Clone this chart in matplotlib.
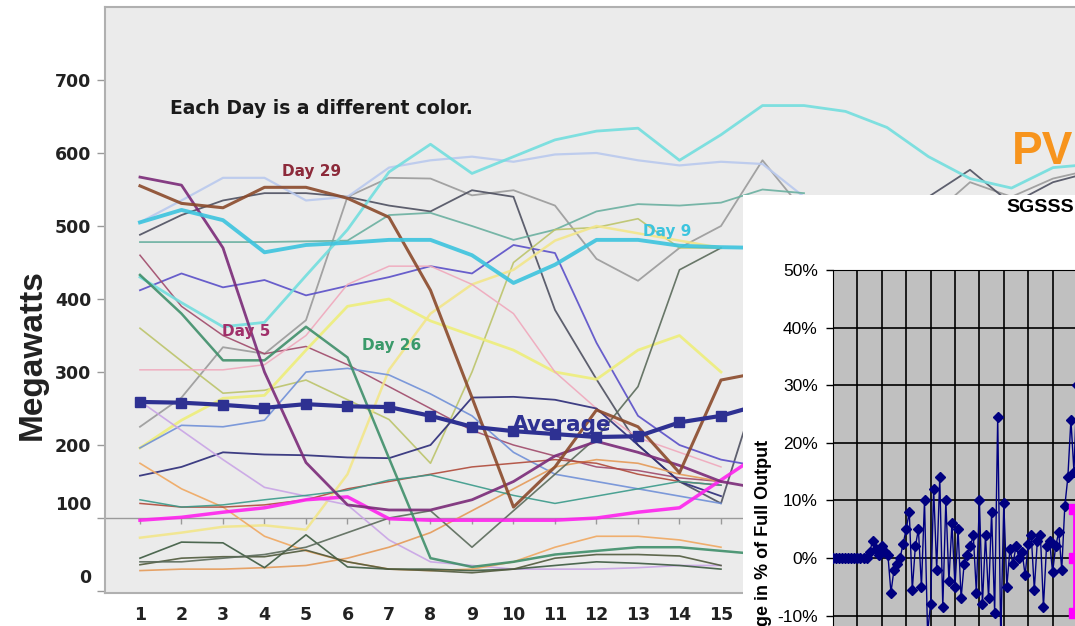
import matplotlib
matplotlib.use("Agg")
import matplotlib.pyplot as plt
import matplotlib.transforms as mtransforms

plt.rcParams['font.family'] = ['DejaVu Sans']

# ---- main chart data (MW per hour, each day a line) ----
hours = list(range(1, 25))
y_ticks = [0, 100, 200, 300, 400, 500, 600, 700]

average = [259, 258, 255, 251, 256, 253, 252, 240, 225, 219, 215, 211, 212, 231, 240, 256]
day29 = [555, 531, 525, 553, 553, 538, 512, 412, 265, 115, 170, 248, 225, 162, 289, 300]
day5 = [567, 556, 470, 300, 176, 118, 111, 111, 125, 150, 185, 205, 190, 172, 150, 140]
day9 = [505, 522, 508, 464, 474, 477, 481, 481, 460, 422, 447, 481, 481, 473, 471, 470]
day26 = [433, 380, 316, 316, 362, 320, 182, 45, 33, 40, 50, 55, 60, 60, 55, 50]
cyan_top = [430, 395, 362, 368, 432, 495, 574, 612, 572, 595, 618, 630, 634, 590, 625,
            665, 665, 657, 635, 595, 565, 552, 580, 585]
lavender = [505, 535, 566, 566, 535, 540, 580, 590, 595, 588, 598, 600, 590, 583, 588, 585, 540, 520]
dark_gray = [488, 515, 535, 545, 545, 540, 528, 520, 549, 540, 385, 290, 200, 150, 120,
             300, 420, 480, 500, 540, 577, 530, 560, 575]
gray = [225, 265, 334, 325, 371, 540, 566, 565, 542, 549, 528, 455, 425, 470, 500,
        590, 520, 500, 490, 510, 560, 540, 565, 578]
teal = [478, 478, 478, 478, 479, 480, 515, 518, 500, 481, 495, 520, 530, 528, 532, 550, 545]
blue_violet = [412, 435, 416, 426, 405, 418, 430, 445, 435, 474, 463, 340, 240, 200, 180, 170]
maroon = [460, 390, 350, 325, 335, 310, 280, 250, 220, 200, 185, 170, 165, 155, 150]
olive = [360, 315, 271, 275, 289, 262, 235, 175, 300, 450, 495, 498, 510, 470, 470]
yellow = [196, 234, 264, 268, 330, 390, 400, 370, 350, 330, 300, 290, 330, 350, 300]
yellow2 = [73, 80, 88, 90, 84, 160, 303, 380, 420, 440, 480, 500, 490, 480, 470]
pink = [303, 303, 303, 310, 350, 420, 445, 445, 420, 380, 300, 250, 210, 190, 170]
steel = [196, 227, 225, 234, 300, 305, 296, 270, 240, 190, 160, 150, 140, 130, 120]
navy_thin = [158, 170, 190, 187, 186, 183, 182, 200, 265, 266, 262, 250, 200, 150, 130]
lilac = [260, 220, 180, 142, 130, 118, 70, 40, 35, 30, 30, 30, 32, 35, 35]
orange = [175, 140, 115, 75, 55, 40, 30, 28, 30, 40, 60, 75, 75, 70, 60]
orange2 = [28, 30, 30, 32, 35, 45, 60, 80, 110, 140, 170, 180, 175, 160, 150]
green_a = [45, 67, 66, 32, 77, 33, 30, 30, 28, 30, 35, 40, 38, 35, 30]
green_b = [36, 45, 47, 47, 56, 40, 30, 28, 25, 30, 45, 50, 50, 48, 35]
riser = [40, 40, 45, 50, 60, 80, 100, 110, 60, 110, 160, 210, 280, 440, 470]
red_brown = [120, 115, 115, 118, 125, 140, 150, 160, 170, 175, 180, 175, 160, 150, 145]
teal_low = [125, 115, 118, 125, 131, 138, 152, 159, 145, 131, 120, 130, 140, 150, 145]
magenta = [97, 101, 108, 114, 125, 129, 99, 97, 97, 97, 97, 100, 108, 114, 152, 190]

# ---- inset data (change in % of full output) ----
inset_pct = [0, 0, 0, 0, 0, 0, 0, 0, 0, 0, 0, 0, 1, 3, 1.5, 0.5, 2, 1, 0.5, -6,
             -2, -1, 0, 2.5, 5, 8, -5.5, 2, 5, -5, 10, -13, -8, 12, -2, 14, -8.5, 10, -4, 6,
             -5, 5, -7, -1, 0.5, 2, 4, -6, 10, -8, 4, -7, 8, -9.5, 24.5, -14, 9.5, -5, 1.5, -1,
             2, 0, 1, -3, 2.5, 4, -5.5, 3, 4, -8.5, 2, 3, -2.5, 2, 4.5, -2, 9, 14, 24, 15, 30]
inset_magenta = [8.5, 0, -9.5]
inset_ticks = [-30, -20, -10, 0, 10, 20, 30, 40, 50]

W, H = 1075, 626
fig = plt.figure(figsize=(W / 100, H / 100), dpi=100)

# main chart
ax = fig.add_axes([105 / W, 33 / H, 1031 / W, 586 / H])
ax.set_facecolor('#ebebeb')
ax.set_xlim(0.157, 25.0)
ax.set_ylim(-2.7, 800)

ax.axhline(100, color='#9a9a9a', lw=1, zorder=1)
ax.vlines(hours, 92, 100, color='#9a9a9a', lw=1, zorder=1)

lines = [
    (gray, '#9a9a9a', 1.3), (dark_gray, '#4e5060', 1.3), (lavender, '#b9c9ee', 1.6),
    (teal, '#6ab0a0', 1.3), (blue_violet, '#5a4fc8', 1.3), (maroon, '#a04a6a', 1.1),
    (olive, '#bcc46a', 1.2), (yellow, '#eeee7a', 2.0), (yellow2, '#f2e68a', 1.8),
    (pink, '#f0a8bc', 1.1), (steel, '#7090d8', 1.2), (navy_thin, '#2b2b78', 1.3),
    (lilac, '#c9a4e6', 1.2), (orange, '#f0a860', 1.2), (orange2, '#e59a58', 1.2),
    (green_a, '#3c5a40', 1.2), (green_b, '#505a3c', 1.2), (riser, '#5a6a5a', 1.2),
    (red_brown, '#b04a3a', 1.1), (teal_low, '#3a9a8a', 1.1), (magenta, '#ff22ee', 2.5),
    (cyan_top, '#72dede', 2.0), (day26, '#3f8f6a', 1.8), (day5, '#7a2a78', 2.0),
    (day29, '#8b4a2b', 2.2), (day9, '#3cc4de', 2.8),
]
for vals, col, lw in lines:
    ax.plot(hours[:len(vals)], vals, color=col, lw=lw, alpha=0.9, zorder=2)

ax.plot(hours[:len(average)], average, color='#2e3192', lw=3, marker='s', ms=7, zorder=3)

ax.text(5.14, 574, 'Day 29', color='#8c2a3a', fontsize=11, weight='bold', ha='center', va='center')
ax.text(13.7, 493, 'Day 9', color='#3cc4de', fontsize=11, weight='bold', ha='center', va='center')
ax.text(3.55, 355, 'Day 5', color='#a0306a', fontsize=11, weight='bold', ha='center', va='center')
ax.text(7.07, 337, 'Day 26', color='#3a9a6a', fontsize=11, weight='bold', ha='center', va='center')
ax.text(11.17, 227, 'Average', color='#2e3192', fontsize=15.5, weight='bold', ha='center', va='center')

ax.set_xticks(hours)
ax.set_xticklabels([str(h) for h in hours])
ax.set_yticks(y_ticks)
ax.set_yticklabels([str(v) for v in y_ticks])
ax.tick_params(axis='x', length=0, pad=9, labelsize=12.5, labelcolor='#222222')
ax.tick_params(axis='y', length=6, width=1, color='#999999', pad=4, labelsize=12.5, labelcolor='#222222')
for lab in ax.get_xticklabels() + ax.get_yticklabels():
    lab.set_fontweight('bold')
for tick in ax.yaxis.get_major_ticks():
    if tick.get_loc() in (0, 100):
        off = mtransforms.ScaledTranslation(0, 0.15, fig.dpi_scale_trans)
        tick.label1.set_transform(tick.label1.get_transform() + off)

for side in ['top', 'left', 'bottom']:
    ax.spines[side].set_color('#b0b0b0')
    ax.spines[side].set_linewidth(1.5)
ax.spines['right'].set_visible(False)

fig.text(32 / W, 1 - 355 / H, 'Megawatts', rotation=90, fontsize=24, weight='bold',
         family='Liberation Sans', ha='center', va='center', color='#222222')
fig.text(170 / W, 1 - 108 / H, 'Each Day is a different color.', fontsize=13.5,
         weight='bold', ha='left', va='center', color='#1a1a1a')
fig.text(1012 / W, 1 - 152 / H, 'PV', fontsize=33, weight='bold', family='Liberation Sans',
         color='#f7941d', ha='left', va='center')

# inset chart on white panel
bg = fig.add_axes([743 / W, 0, (W - 743) / W + 0.05, (H - 195) / H])
bg.set_facecolor('white')
bg.set_xticks([])
bg.set_yticks([])
for s in bg.spines.values():
    s.set_visible(False)
bg.set_zorder(5)

ins = fig.add_axes([833 / W, 1 - 270 / H - 460.8 / H, 292.8 / W, 460.8 / H])
ins.set_zorder(6)
ins.set_facecolor('#c0c0c0')
ins.set_xlim(0, 96)
ins.set_ylim(-30, 50)
ins.set_xticks(range(0, 97, 8))
ins.set_xticklabels([])
ins.set_yticks(inset_ticks)
ins.set_yticklabels([f'{v}%' for v in inset_ticks])
ins.grid(True, color='black', lw=1.2)
ins.set_axisbelow(True)
ins.tick_params(axis='x', length=0)
ins.tick_params(axis='y', length=5, width=1, pad=6, labelsize=12.5)
for lab in ins.get_yticklabels():
    lab.set_family('Liberation Sans')
for s in ins.spines.values():
    s.set_color('black')

ins_x = list(range(len(inset_pct)))
ins.plot(ins_x, inset_pct, color='#000080', lw=1, marker='D', ms=5.5, zorder=3)
ins.plot([79] * len(inset_magenta), inset_magenta, color='#ff00ff', lw=2, marker='s', ms=7, zorder=4)

fig.text(763 / W, 1 - 440 / H, 'Change in % of Full Output', rotation=90, fontsize=13,
         weight='bold', family='Liberation Sans', ha='center', va='top', zorder=10)
fig.text(1006 / W, 1 - 208 / H, 'SGSSS', fontsize=14, weight='bold',
         family='Liberation Sans', ha='left', va='center', zorder=10)

fig.savefig('out.png', dpi=100)
